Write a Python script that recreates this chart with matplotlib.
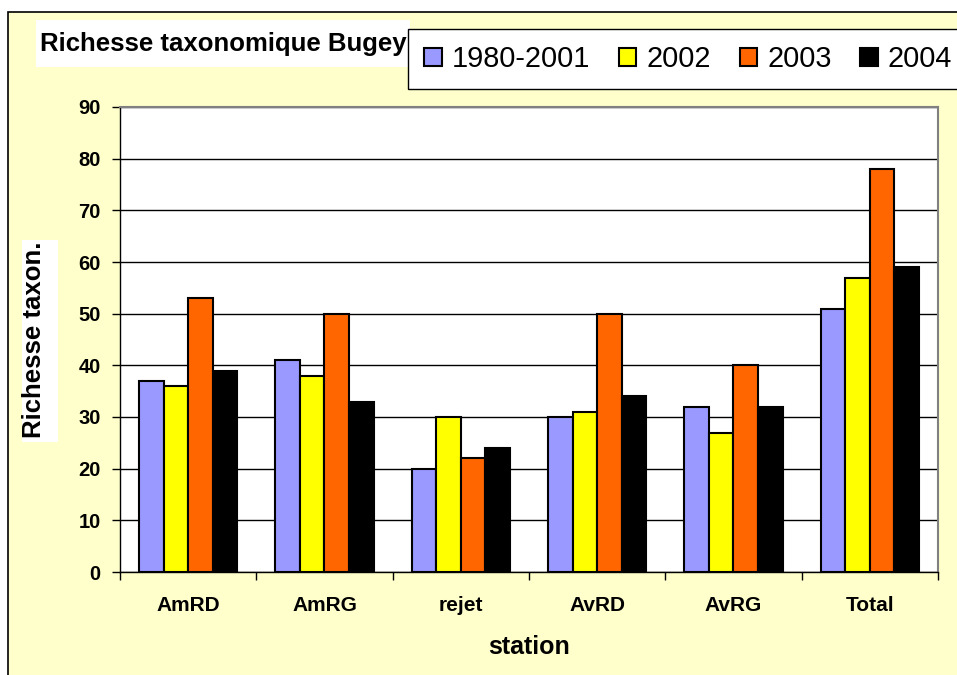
import matplotlib
matplotlib.use("Agg")
import matplotlib.pyplot as plt
from matplotlib.patches import Rectangle, Patch
import numpy as np

stations = ["AmRD", "AmRG", "rejet", "AvRD", "AvRG", "Total"]
series_names = ["1980-2001", "2002", "2003", "2004"]
v_1980_2001 = [37, 41, 20, 30, 32, 51]
v_2002 = [36, 38, 30, 31, 27, 57]
v_2003 = [53, 50, 22, 50, 40, 78]
v_2004 = [39, 33, 24, 34, 32, 59]
series_values = [v_1980_2001, v_2002, v_2003, v_2004]
colors = ["#9999FF", "#FFFF00", "#FF6600", "#000000"]
y_ticks = [0, 10, 20, 30, 40, 50, 60, 70, 80, 90]

plt.rcParams['font.family'] = ['Liberation Sans', 'DejaVu Sans']

W, H = 957, 675
fig = plt.figure(figsize=(W / 100, H / 100), dpi=100)
fig.patch.set_facecolor("white")

# chart-area background with border (extends past right/bottom edge)
fig.patches.append(Rectangle((8 / W, -0.05), 1.1, 1 - 12 / H + 0.05,
                             transform=fig.transFigure, facecolor="#FFFFCC",
                             edgecolor="black", lw=1.2, zorder=-10))
# white box behind the y-axis title
fig.patches.append(Rectangle((22 / W, 1 - 442 / H), (58 - 22) / W, (442 - 240) / H,
                             transform=fig.transFigure, facecolor="white",
                             edgecolor="none", zorder=-5))

ax = fig.add_axes([120 / W, 1 - 572 / H, (938 - 120) / W, (572 - 107) / H])
ax.set_facecolor("white")

x = np.arange(len(stations))
bw = 0.18
for i, (name, vals, c) in enumerate(zip(series_names, series_values, colors)):
    ax.bar(x + (i - 1.5) * bw, vals, width=bw, color=c, edgecolor="black",
           linewidth=1.5, zorder=3, label=name)

ax.set_xlim(-0.5, len(stations) - 0.5)
ax.set_ylim(0, 90)
ax.set_yticks(y_ticks)
ax.set_yticklabels([str(t) for t in y_ticks], fontsize=14.5, fontweight="bold")
ax.yaxis.grid(True, color="black", lw=1, zorder=1)
ax.set_axisbelow(True)

ax.set_xticks(x)
ax.set_xticklabels(stations, fontsize=15, fontweight="bold")
ax.tick_params(axis="x", which="major", length=0, pad=17)
ax.set_xticks(np.arange(-0.5, len(stations), 1.0), minor=True)
ax.tick_params(axis="x", which="minor", length=6, width=1, direction="out")
ax.tick_params(axis="y", length=6, width=1, direction="out", pad=8)

for s in ["top", "right"]:
    ax.spines[s].set_color("#808080")
    ax.spines[s].set_linewidth(1.5)
for s in ["left", "bottom"]:
    ax.spines[s].set_color("black")
    ax.spines[s].set_linewidth(1)

ax.set_xlabel("station", fontsize=18, fontweight="bold", labelpad=15)
ax.set_ylabel("Richesse taxon.", fontsize=18.5, fontweight="bold", labelpad=23)

# title box
fig.patches.append(Rectangle((36 / W, 1 - 67 / H), (410 - 36) / W, (67 - 20) / H,
                             transform=fig.transFigure, facecolor="white",
                             edgecolor="none", zorder=1))
fig.text(40 / W, 1 - 44 / H, "Richesse taxonomique Bugey", fontsize=18.5,
         fontweight="bold", ha="left", va="center", zorder=2)

handles = [Patch(facecolor=c, edgecolor="black", lw=1.5) for c in colors]
leg = fig.legend(handles, series_names, loc="upper left",
                 bbox_to_anchor=(408 / W, 1 - 29 / H), ncol=4, fontsize=20.8,
                 frameon=True, fancybox=False, framealpha=1, edgecolor="black",
                 handlelength=0.6, handleheight=0.6, handletextpad=0.35,
                 columnspacing=1.0, borderpad=0.56, borderaxespad=0)
leg.get_frame().set_linewidth(1)
leg.set_zorder(5)

fig.savefig("out.png", dpi=100)
